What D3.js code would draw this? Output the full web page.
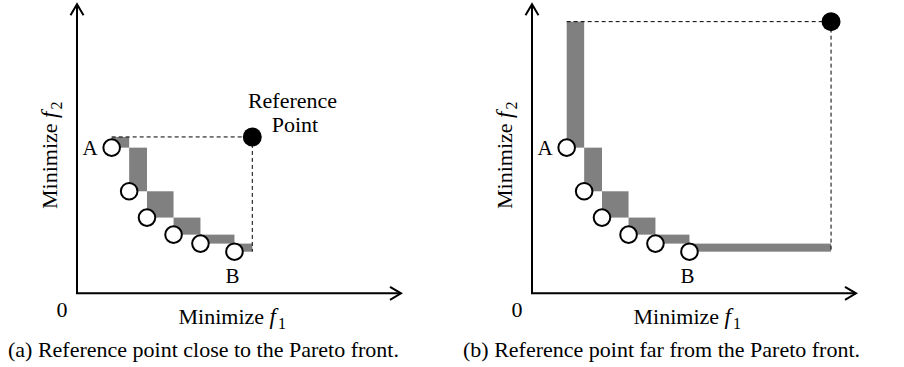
<!DOCTYPE html>
<html>
<head>
<meta charset="utf-8">
<script src="https://d3js.org/d3.v7.min.js"></script>
<style>
  body { margin: 0; background: #fff; }
  text { font-family: "Liberation Serif", "Times New Roman", serif; fill: #000; }
</style>
</head>
<body>
<script>
var width = 904,
    height = 367;

// Pareto front points (f1, f2), same in both panels, in axis units (axis length = 10)
var paretoF1 = [1.07, 1.61, 2.16, 2.98, 3.81, 4.86];
var paretoF2 = [5.04, 3.53, 2.62, 2.03, 1.72, 1.44];
var pointLabels = ["A", "", "", "", "", "B"];

// reference points for panel (a) and (b)
var refF1 = [5.41, 9.23];
var refF2 = [5.41, 9.40];

var captions = ["(a) Reference point close to the Pareto front.",
                "(b) Reference point far from the Pareto front."];
var axisTitleX = "Minimize ";
var axisTitleY = "Minimize ";

var svg = d3.select('body').append('svg')
    .attr('width', width)
    .attr('height', height);

// one panel per reference point
var panelX = [77, 532];
var originY = 293.3;

function drawPanel(p) {
  var ox = panelX[p];
  var x = d3.scaleLinear().domain([0, 10]).range([ox, ox + 324]);
  var y = d3.scaleLinear().domain([0, 10]).range([originY, originY - 289]);

  var g = svg.append('g');

  var pts = paretoF1.map(function(d, i) {
    return {f1: d, f2: paretoF2[i], label: pointLabels[i]};
  });

  // exclusive hypervolume contribution of each point
  var rects = pts.map(function(d, i) {
    var x2 = i < pts.length - 1 ? pts[i + 1].f1 : refF1[p];
    var y2 = i > 0 ? pts[i - 1].f2 : refF2[p];
    return {x1: d.f1, x2: x2, y1: d.f2, y2: y2};
  });

  g.selectAll('.hv')
    .data(rects)
    .enter().append('rect')
    .attr('x', function(d) { return x(d.x1); })
    .attr('y', function(d) { return y(d.y2); })
    .attr('width', function(d) { return x(d.x2) - x(d.x1); })
    .attr('height', function(d) { return y(d.y1) - y(d.y2); })
    .attr('fill', '#808080');

  // dashed bounds to the reference point
  g.append('line')
    .attr('x1', x(pts[0].f1)).attr('x2', x(refF1[p]))
    .attr('y1', y(refF2[p])).attr('y2', y(refF2[p]))
    .attr('stroke', '#000').attr('stroke-width', 1)
    .attr('stroke-dasharray', '4,3');
  g.append('line')
    .attr('x1', x(refF1[p])).attr('x2', x(refF1[p]))
    .attr('y1', y(refF2[p])).attr('y2', y(pts[pts.length - 1].f2))
    .attr('stroke', '#000').attr('stroke-width', 1)
    .attr('stroke-dasharray', '4,3');

  // axes with open arrow heads
  var ax = g.append('g')
    .attr('stroke', '#000').attr('stroke-width', 2).attr('fill', 'none');
  ax.append('path')
    .attr('d', 'M' + x(0) + ',' + y(0) + 'V' + y(10));
  ax.append('path')
    .attr('d', 'M' + (x(0) - 6.5) + ',' + (y(10) + 11) + 'L' + x(0) + ',' + y(10) + 'L' + (x(0) + 6.5) + ',' + (y(10) + 11));
  ax.append('path')
    .attr('d', 'M' + (x(0) - 1) + ',' + y(0) + 'H' + x(10));
  ax.append('path')
    .attr('d', 'M' + (x(10) - 11) + ',' + (y(0) - 6.5) + 'L' + x(10) + ',' + y(0) + 'L' + (x(10) - 11) + ',' + (y(0) + 6.5));

  // solutions
  g.selectAll('.sol')
    .data(pts)
    .enter().append('circle')
    .attr('cx', function(d) { return x(d.f1); })
    .attr('cy', function(d) { return y(d.f2); })
    .attr('r', 8.3)
    .attr('fill', '#fff')
    .attr('stroke', '#000')
    .attr('stroke-width', 2);

  // reference point
  g.append('circle')
    .attr('cx', x(refF1[p]))
    .attr('cy', y(refF2[p]))
    .attr('r', 9.5)
    .attr('fill', '#000');

  // A / B labels
  g.append('text')
    .attr('x', x(pts[0].f1) - 14)
    .attr('y', y(pts[0].f2) + 7)
    .attr('text-anchor', 'end')
    .attr('font-size', 21)
    .text(pts[0].label);
  g.append('text')
    .attr('x', x(pts[pts.length - 1].f1) - 2)
    .attr('y', y(pts[pts.length - 1].f2) + 31)
    .attr('text-anchor', 'middle')
    .attr('font-size', 21)
    .text(pts[pts.length - 1].label);

  // origin
  g.append('text')
    .attr('x', x(0) - 15)
    .attr('y', y(0) + 24)
    .attr('text-anchor', 'middle')
    .attr('font-size', 22)
    .text('0');

  // x axis title
  var tx = g.append('text')
    .attr('x', x(0) + 101.5)
    .attr('y', y(0) + 31)
    .attr('font-size', 22);
  tx.append('tspan').text(axisTitleX);
  tx.append('tspan').attr('font-style', 'italic').attr('font-size', 23).text('f');
  tx.append('tspan').attr('font-size', 16).attr('dy', 5).attr('dx', 2).text('1');

  // y axis title
  var ty = g.append('text')
    .attr('transform', 'translate(' + (x(0) - 20.5) + ',' + 209 + ') rotate(-90)')
    .attr('font-size', 22);
  ty.append('tspan').text(axisTitleY);
  ty.append('tspan').attr('font-style', 'italic').attr('font-size', 23).text('f');
  ty.append('tspan').attr('font-size', 16).attr('dy', 5).attr('dx', 2).text('2');

  // caption
  g.append('text')
    .attr('x', x(0) - 69)
    .attr('y', 357)
    .attr('font-size', 22)
    .text(captions[p]);
}

drawPanel(0);
drawPanel(1);

// label of the near reference point
svg.append('text')
  .attr('x', 292.5).attr('y', 108.3)
  .attr('text-anchor', 'middle')
  .attr('font-size', 22)
  .text('Reference');
svg.append('text')
  .attr('x', 295).attr('y', 131.7)
  .attr('text-anchor', 'middle')
  .attr('font-size', 22)
  .text('Point');
</script>
</body>
</html>
